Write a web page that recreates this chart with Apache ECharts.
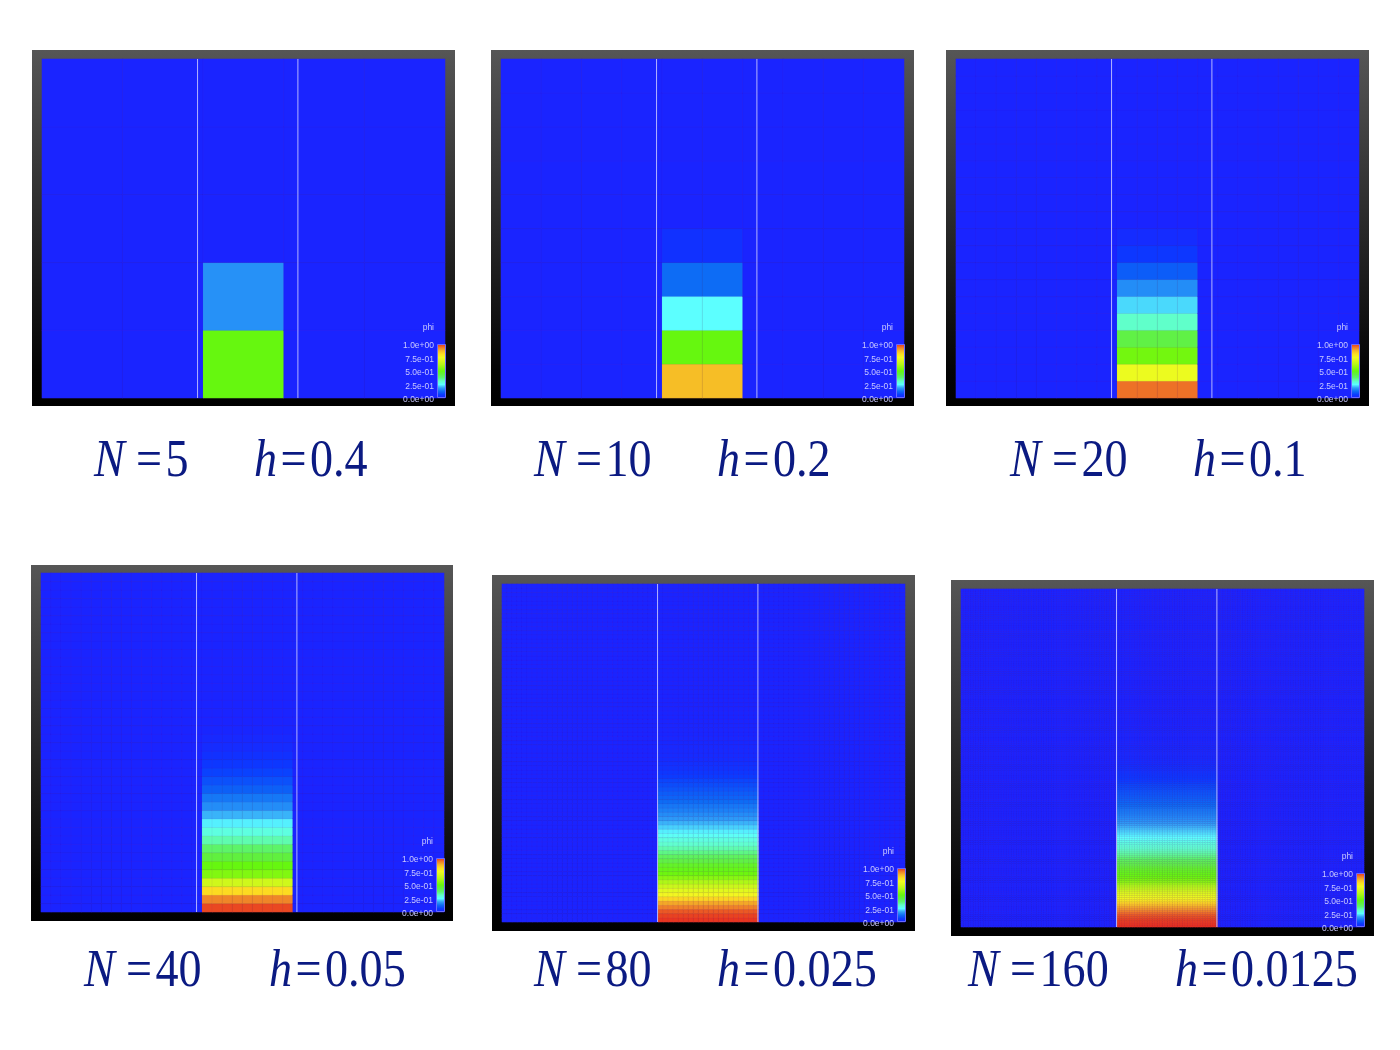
<!DOCTYPE html>
<html><head><meta charset="utf-8">
<style>html,body{margin:0;padding:0;background:#fff}#c{width:1400px;height:1050px}</style>
<script src="https://cdn.jsdelivr.net/npm/echarts@6/dist/echarts.min.js"></script></head>
<body><div id="c"></div>
<script>
// ---- data: phi in the fluid column, bottom row upward; rows not listed are 0 ----
var meshSizes = [5, 10, 20, 40, 80, 160];
var stepLabels = ['0.4', '0.2', '0.1', '0.05', '0.025', '0.0125'];
var columnStart = [2, 4, 8, 16, 31, 62];
var columnEnd = [2, 5, 11, 24, 50, 101];
var fenceX = [0.386, 0.635];
var phi5 = [0.5, 0.17];
var phi10 = [0.865, 0.5, 0.25, 0.125, 0.035];
var phi20 = [0.945, 0.74, 0.52, 0.43, 0.31, 0.225, 0.165, 0.105, 0.05, 0.02];
var phi40 = [0.98, 0.925, 0.82, 0.67, 0.54, 0.5, 0.44, 0.385, 0.33, 0.285, 0.24, 0.2, 0.165, 0.14, 0.11, 0.09, 0.07, 0.05, 0.035, 0.02, 0.012, 0.006];
var phi80 = [0.995,0.985,0.965,0.93,0.89,0.83,0.76,0.71,0.66,0.61,0.55,0.51,0.49,0.47,0.43,0.4,0.36,0.33,0.305,0.285,0.26,0.24,0.22,0.2,0.18,0.165,0.15,0.14,0.125,0.115,0.105,0.095,0.085,0.075,0.06,0.05,0.04,0.03,0.022,0.018,0.015,0.012,0.01,0.008,0.006,0.005,0.004,0.003,0.002,0.002,0.001,0.001];
var phi160 = [0.998,0.995,0.99,0.985,0.975,0.965,0.95,0.93,0.91,0.89,0.86,0.83,0.795,0.76,0.735,0.71,0.685,0.66,0.635,0.61,0.58,0.55,0.53,0.51,0.5,0.49,0.48,0.47,0.45,0.43,0.415,0.4,0.38,0.36,0.345,0.33,0.318,0.305,0.295,0.285,0.272,0.26,0.25,0.24,0.23,0.22,0.21,0.2,0.19,0.18,0.172,0.165,0.157,0.15,0.145,0.14,0.132,0.125,0.12,0.115,0.11,0.105,0.1,0.095,0.09,0.085,0.08,0.075,0.067,0.06,0.055,0.05,0.045,0.04,0.035,0.03,0.026,0.022,0.02,0.018,0.016,0.015,0.013,0.012,0.011,0.01,0.009,0.008,0.007,0.006,0.005,0.005,0.004,0.004,0.003,0.003,0.002,0.002,0.002,0.002,0.001,0.001,0.001,0.001];
var phiByMesh = [phi5, phi10, phi20, phi40, phi80, phi160];
var legendTicks = [0, 1];

// ---- layout and styling ----
var panels = [
  {l:32, t:50, r:455, b:406, il:42, it:59, ir:445, ib:398, cy:462, nx:94, hx:254},
  {l:491, t:50, r:914, b:406, il:501, it:59, ir:904, ib:398, cy:462, nx:534, hx:717},
  {l:946, t:50, r:1369, b:406, il:956, it:59, ir:1359, ib:398, cy:462, nx:1010, hx:1193},
  {l:31, t:565, r:453, b:921, il:41, it:573, ir:444, ib:912, cy:972, nx:84, hx:269},
  {l:492, t:575, r:915, b:931, il:502, it:584, ir:905, ib:922, cy:972, nx:534, hx:717},
  {l:951, t:580, r:1374, b:936, il:961, it:589, ir:1364, ib:927, cy:972, nx:968, hx:1175}
];
var ramp = ['#1a24ff','#0a3cff','#0d6cf5','#30a0f8','#5cffff','#60ffc8','#5cf570','#60f040','#66f70f','#90f810','#b8f818','#d8f81c','#f0fb20','#fde020','#f5b727','#ee7a28','#e8301e'];
var textColor = '#0b1a82';

var grids = [], xAxes = [], yAxes = [], series = [], graphics = [], heatIdx = [];
panels.forEach(function (p, i) {
  var N = meshSizes[i], values = phiByMesh[i];
  var cats = []; for (var k = 0; k < N; k++) cats.push(k);
  var cells = [];
  for (var cx = 0; cx < N; cx++) for (var cy = 0; cy < N; cy++) {
    var v = (cx >= columnStart[i] && cx <= columnEnd[i] && cy < values.length) ? values[cy] : 0;
    cells.push([cx, cy, v]);
  }
  graphics.push({type:'rect', z:-5, shape:{x:p.l, y:p.t, width:p.r-p.l, height:p.b-p.t},
    style:{fill:new echarts.graphic.LinearGradient(0,0,0,1,[{offset:0,color:'#565656'},{offset:0.9,color:'#040404'},{offset:1,color:'#000'}])}});
  var base = grids.length;
  grids.push({left:p.il, top:p.it, width:p.ir-p.il, height:p.ib-p.it});
  var ax = xAxes.length;
  xAxes.push({type:'category', gridIndex:base, data:cats, show:false});
  xAxes.push({type:'value', gridIndex:base, min:0, max:1, show:false});
  yAxes.push({type:'category', gridIndex:base, data:cats, show:false});
  yAxes.push({type:'value', gridIndex:base, min:0, max:1, show:false});
  heatIdx.push(series.length);
  series.push({type:'heatmap', xAxisIndex:ax, yAxisIndex:ax, data:cells, progressive:0, silent:true, animation:false,
    itemStyle:{borderColor:'rgba(130,40,170,0.16)', borderWidth:0.5}, emphasis:{disabled:true}});
  fenceX.forEach(function (fx) {
    series.push({type:'line', xAxisIndex:ax+1, yAxisIndex:ax+1, data:[[fx,0],[fx,1]], symbol:'none', silent:true, animation:false,
      lineStyle:{color:'#b4b4ff', width:1}, z:5});
  });
  // colour bar
  var g2 = grids.length;
  grids.push({left:p.ir-8, top:p.ib-54, width:9, height:54, z:6});
  var ax2 = xAxes.length;
  xAxes.push({type:'category', gridIndex:g2, data:['phi'], show:false});
  yAxes.push({type:'value', gridIndex:g2, min:legendTicks[0], max:legendTicks[1], interval:0.25, position:'left', z:10,
    name:'phi', nameLocation:'end', nameGap:12,
    nameTextStyle:{color:'#c8c8ff', fontFamily:'Liberation Sans', fontSize:8.5, align:'right', padding:[0,3,0,0]},
    axisLine:{show:false}, axisTick:{show:false}, splitLine:{show:false},
    axisLabel:{color:'#c8c8ff', fontFamily:'Liberation Sans', fontSize:8.5, margin:3, verticalAlign:'top', lineHeight:4, showMinLabel:true, showMaxLabel:true, hideOverlap:false,
      formatter:function (v) { return v.toExponential(1).replace(/e([+-])(\d)$/, 'e$10$2'); }}});
  var stops = ramp.map(function (c, j) { return {offset:j/(ramp.length-1), color:c}; });
  series.push({type:'bar', xAxisIndex:ax2, yAxisIndex:ax2, data:[1], barWidth:'100%', silent:true, animation:false, z:6,
    itemStyle:{color:new echarts.graphic.LinearGradient(0,1,0,0,stops), borderColor:'#6a6aff', borderWidth:1}});
  // captions
  var rich = {n:{fontFamily:'Liberation Serif', fontStyle:'italic', fontSize:53, fill:textColor, padding:[0,13,0,0]},
              i:{fontFamily:'Liberation Serif', fontStyle:'italic', fontSize:53, fill:textColor, padding:[0,4,0,0]},
              e:{fontFamily:'Liberation Serif', fontSize:53, fill:textColor, padding:[0,4,0,0]},
              r:{fontFamily:'Liberation Serif', fontSize:53, fill:textColor}};
  graphics.push({type:'text', x:p.nx, y:p.cy, scaleX:0.87, z:10, style:{text:'{n|N}{e|=}{r|'+N+'}', rich:rich, verticalAlign:'middle'}});
  graphics.push({type:'text', x:p.hx, y:p.cy, scaleX:0.87, z:10, style:{text:'{i|h}{e|=}{r|'+stepLabels[i]+'}', rich:rich, verticalAlign:'middle'}});
});

var chart = echarts.init(document.getElementById('c'), null, {renderer:'canvas'});
chart.setOption({
  animation:false, backgroundColor:'#ffffff', grid:grids, xAxis:xAxes, yAxis:yAxes, series:series, graphic:graphics,
  visualMap:{show:false, type:'continuous', min:0, max:1, seriesIndex:heatIdx, inRange:{color:ramp}}
});
</script></body></html>
